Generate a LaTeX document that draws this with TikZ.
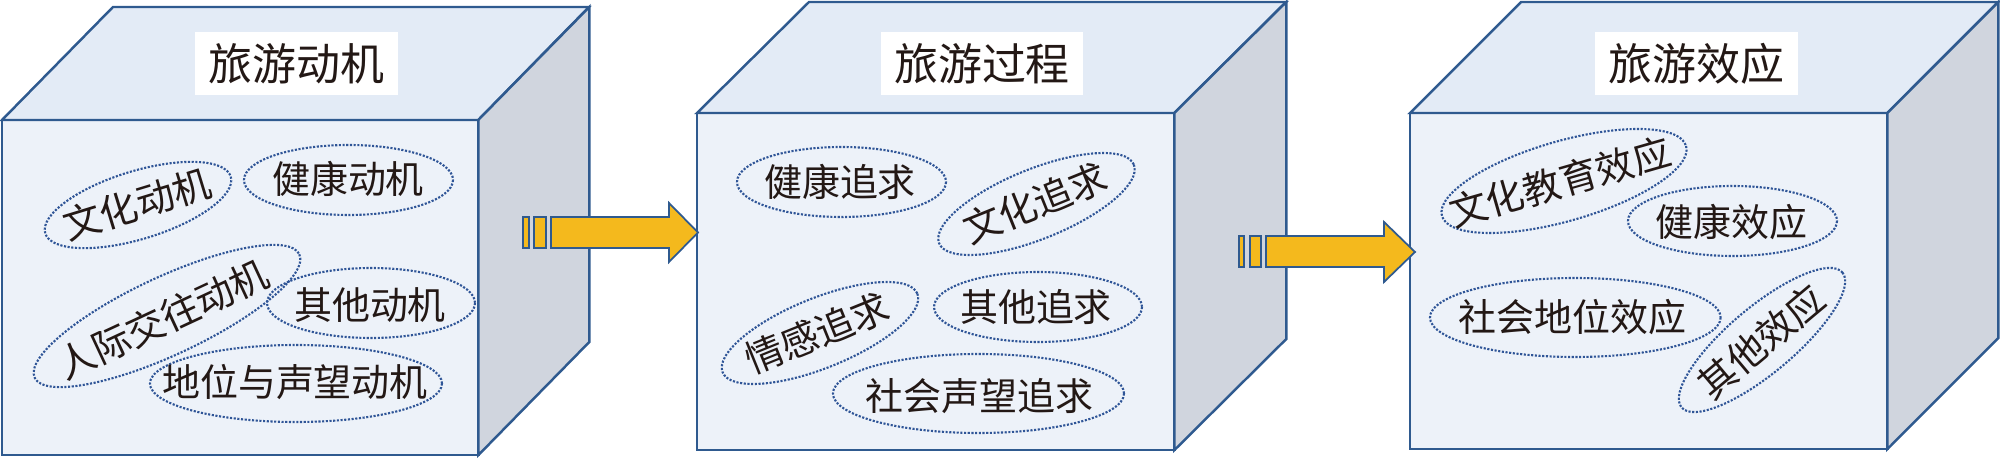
\documentclass[tikz,border=0pt]{standalone}
\usepackage{fontspec}
\newfontfamily\cjk{Noto Sans CJK SC}
\usetikzlibrary{shapes.geometric}
\definecolor{edgeblue}{HTML}{2F5A8F}
\definecolor{frontfill}{HTML}{EDF2F9}
\definecolor{topfill}{HTML}{E3EBF6}
\definecolor{sidefill}{HTML}{D0D5DE}
\definecolor{arrowfill}{HTML}{F4B91D}
\definecolor{dotblue}{HTML}{2F5597}
\definecolor{inkc}{HTML}{231815}
\begin{document}
\begin{tikzpicture}[x=0.01cm,y=-0.01cm,
  face/.style={draw=edgeblue, line width=0.7pt, line join=miter},
  frontface/.style={face, fill=frontfill, rectangle, inner sep=0pt, outer sep=0pt, anchor=north west},
  titlebox/.style={fill=white, inner sep=0pt, minimum width=2.02cm, minimum height=0.63cm, font=\cjk\fontsize{12.5}{12.5}\selectfont, text=inkc},
  lbl/.style={inner sep=0pt, font=\cjk\fontsize{10.8}{10.8}\selectfont, text=inkc},
  dotring/.style={draw=dotblue, line width=0.6pt, dash pattern=on 0.6pt off 0.45pt},
  bigarrow/.style={draw=edgeblue, line width=0.5pt, fill=arrowfill, line join=miter}]
\useasboundingbox (0,0) rectangle (2000,458);

% ---- cube 1 ----
\node[frontface, minimum width=4.76cm, minimum height=3.35cm] (c1) at (2,120) {};
\draw[face, fill=topfill] (c1.north west) -- ++(111,-113) -- ++(476,0) -- (c1.north east) -- cycle;
\draw[face, fill=sidefill] (c1.north east) -- ++(111,-113) -- ++(0,335) -- (c1.south east) -- cycle;
\node[titlebox] (t1) at (296.5,63.5) {旅游动机};

% ---- cube 2 ----
\node[frontface, minimum width=4.77cm, minimum height=3.37cm] (c2) at (697,113) {};
\draw[face, fill=topfill] (c2.north west) -- ++(112,-111) -- ++(477,0) -- (c2.north east) -- cycle;
\draw[face, fill=sidefill] (c2.north east) -- ++(112,-111) -- ++(0,337) -- (c2.south east) -- cycle;
\node[titlebox] (t2) at (982,63.5) {旅游过程};

% ---- cube 3 ----
\node[frontface, minimum width=4.77cm, minimum height=3.36cm] (c3) at (1410,113) {};
\draw[face, fill=topfill] (c3.north west) -- ++(111,-111) -- ++(477,0) -- (c3.north east) -- cycle;
\draw[face, fill=sidefill] (c3.north east) -- ++(111,-111) -- ++(0,336) -- (c3.south east) -- cycle;
\node[titlebox] (t3) at (1696.5,63.5) {旅游效应};

% ---- arrows ----
\coordinate (a1tip) at (698,232.5);
\draw[bigarrow] (523,217) rectangle (529,248);
\draw[bigarrow] (534,217) rectangle (546,248);
\draw[bigarrow] (551,217) -- (669,217) -- (669,203) -- (a1tip) -- (669,262) -- (669,248) -- (551,248) -- cycle;

\coordinate (a2tip) at (1415,252);
\draw[bigarrow] (1239,236) rectangle (1244,267);
\draw[bigarrow] (1250,236) rectangle (1261,267);
\draw[bigarrow] (1266,236) -- (1384,236) -- (1384,222) -- (a2tip) -- (1384,282) -- (1384,267) -- (1266,267) -- cycle;

% ---- cube 1 ellipses ----
\draw[dotring, rotate around={17:(138,205)}] (138,205) ellipse [x radius=97, y radius=34];
\node[lbl, rotate=17] (m1) at (137,204) {文化动机};
\draw[dotring] (348.5,180) ellipse [x radius=104.5, y radius=35];
\node[lbl] (m2) at (348,179) {健康动机};
\draw[dotring, rotate around={25:(167,316)}] (167,316) ellipse [x radius=146, y radius=39];
\node[lbl, rotate=25] (m3) at (163,319) {人际交往动机};
\draw[dotring] (371,303) ellipse [x radius=104, y radius=35];
\node[lbl] (m4) at (370,305) {其他动机};
\draw[dotring] (296,383.5) ellipse [x radius=146, y radius=38.5];
\node[lbl] (m5) at (295,382) {地位与声望动机};

% ---- cube 2 ellipses ----
\draw[dotring] (841.5,182) ellipse [x radius=104.5, y radius=35];
\node[lbl] (p1) at (840,182) {健康追求};
\draw[dotring, rotate around={22:(1036.5,204)}] (1036.5,204) ellipse [x radius=105, y radius=35];
\node[lbl, rotate=22] (p2) at (1035,203) {文化追求};
\draw[dotring, rotate around={22:(820,333)}] (820,333) ellipse [x radius=105, y radius=35];
\node[lbl, rotate=22] (p3) at (817,333) {情感追求};
\draw[dotring] (1038,307) ellipse [x radius=104, y radius=35];
\node[lbl] (p4) at (1036,307) {其他追求};
\draw[dotring] (978.5,393.5) ellipse [x radius=145.5, y radius=39.5];
\node[lbl] (p5) at (979.5,396) {社会声望追求};

% ---- cube 3 ellipses ----
\draw[dotring, rotate around={16:(1564,181)}] (1564,181) ellipse [x radius=127, y radius=40];
\node[lbl, rotate=16] (e1) at (1560,182) {文化教育效应};
\draw[dotring] (1732.5,221) ellipse [x radius=104.5, y radius=35];
\node[lbl] (e2) at (1731,222) {健康效应};
\draw[dotring] (1575.3,317.5) ellipse [x radius=145.3, y radius=39.5];
\node[lbl] (e3) at (1572.5,317) {社会地位效应};
\draw[dotring, rotate around={40:(1762,340)}] (1762,340) ellipse [x radius=105, y radius=33];
\node[lbl, rotate=40] (e4) at (1761.5,341.5) {其他效应};
\end{tikzpicture}
\end{document}
